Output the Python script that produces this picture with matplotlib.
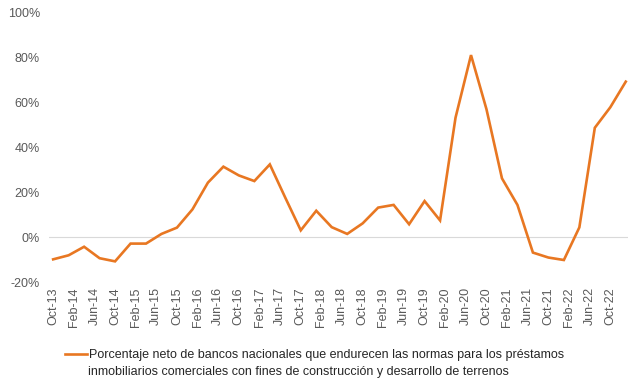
import matplotlib
matplotlib.use("Agg")
import matplotlib.pyplot as plt
import numpy as np
from matplotlib.ticker import FuncFormatter

plt.rcParams['font.family'] = ['Liberation Sans', 'DejaVu Sans']

# Quarterly survey dates from Oct-2013 to Jan-2023 (months since Oct-2013)
quarters = ["Oct-13", "Jan-14", "Apr-14", "Jul-14", "Oct-14", "Jan-15", "Apr-15", "Jul-15",
            "Oct-15", "Jan-16", "Apr-16", "Jul-16", "Oct-16", "Jan-17", "Apr-17", "Jul-17",
            "Oct-17", "Jan-18", "Apr-18", "Jul-18", "Oct-18", "Jan-19", "Apr-19", "Jul-19",
            "Oct-19", "Jan-20", "Apr-20", "Jul-20", "Oct-20", "Jan-21", "Apr-21", "Jul-21",
            "Oct-21", "Jan-22", "Apr-22", "Jul-22", "Oct-22", "Jan-23"]
values = [-9.8, -8.0, -4.2, -9.3, -10.7, -2.8, -2.8, 1.5,
          4.3, 12.4, 24.3, 31.4, 27.5, 25.0, 32.4, 17.6,
          3.1, 11.8, 4.5, 1.5, 6.2, 13.2, 14.4, 5.8,
          16.1, 7.5, 53.2, 81.0, 56.9, 26.2, 14.4, -6.8,
          -9.0, -10.1, 4.4, 48.7, 57.8, 69.2]
tick_labels = ["Oct-13", "Feb-14", "Jun-14", "Oct-14", "Feb-15", "Jun-15", "Oct-15",
               "Feb-16", "Jun-16", "Oct-16", "Feb-17", "Jun-17", "Oct-17", "Feb-18",
               "Jun-18", "Oct-18", "Feb-19", "Jun-19", "Oct-19", "Feb-20", "Jun-20",
               "Oct-20", "Feb-21", "Jun-21", "Oct-21", "Feb-22", "Jun-22", "Oct-22"]
legend_line1 = "Porcentaje neto de bancos nacionales que endurecen las normas para los préstamos"
legend_line2 = "inmobiliarios comerciales con fines de construcción y desarrollo de terrenos"

x = np.arange(len(quarters)) * 3
xt = np.arange(len(tick_labels)) * 4

fig = plt.figure(figsize=(6.4, 3.86), dpi=100)
ax = fig.add_axes([0.0766, 0.2687, 0.9044, 0.6993])

line, = ax.plot(x, values, color='#E87722', lw=1.9, solid_joinstyle='miter')
ax.axhline(0, color='#D9D9D9', lw=0.8, zorder=0)

ax.set_xlim(-0.8, 111.4)
ax.set_ylim(-20, 100)
ax.set_yticks(np.arange(-20, 101, 20))
ax.yaxis.set_major_formatter(FuncFormatter(lambda v, p: f"{v:.0f}%"))
ax.set_xticks(xt)
ax.set_xticklabels(tick_labels, rotation=90)
ax.tick_params(axis='both', length=0, colors='#595959', labelsize=9)
ax.tick_params(axis='y', pad=6.5)
ax.tick_params(axis='x', pad=3.5)
for s in ax.spines.values():
    s.set_visible(False)

fig.legend(handles=[line], labels=[legend_line1], loc='center left',
           bbox_to_anchor=(65 / 640, 1 - 355 / 386),
           frameon=False, fontsize=9, handlelength=1.75, handletextpad=0.15,
           borderaxespad=0, borderpad=0, labelcolor='#262626')
fig.text(88.3 / 640, 1 - 371.5 / 386, legend_line2, fontsize=9, color='#262626',
         va='center', ha='left')

fig.savefig("out.png", dpi=100)
